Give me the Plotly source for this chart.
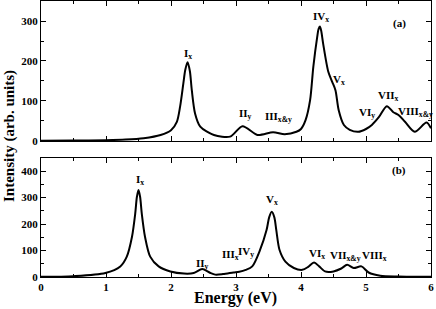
import plotly.graph_objects as go

# Panel (a) spectrum
energy_a = [0.0, 0.5, 1.0, 1.3, 1.58, 1.84, 2.0, 2.09, 2.14, 2.19, 2.22, 2.255, 2.29, 2.32, 2.37, 2.45,
            2.66, 2.91, 3.1, 3.33, 3.57, 3.75, 3.93, 4.0, 4.07, 4.14, 4.19, 4.25, 4.27, 4.29, 4.31, 4.34,
            4.42, 4.48, 4.53, 4.58, 4.66, 4.75, 4.88, 5.0, 5.09, 5.2, 5.32, 5.42, 5.5, 5.6, 5.75, 5.93, 6.0]
intensity_a = [0.5, 1, 2, 3.5, 7, 15, 27, 48, 86, 144, 178, 197, 175, 127, 69, 36,
               15, 11, 37, 15, 22, 17, 23, 30, 52, 102, 186, 261, 280, 286, 276, 244,
               173, 148, 127, 77, 40, 28, 23, 30, 40, 60, 87, 72, 65, 48, 23, 46, 32]

# Panel (b) spectrum
energy_b = [0.0, 0.5, 0.99, 1.22, 1.32, 1.40, 1.45, 1.475, 1.50, 1.525, 1.55, 1.60, 1.68, 1.81, 1.99,
            2.2, 2.35, 2.48, 2.6, 2.68, 2.8, 2.96, 3.05, 3.15, 3.25, 3.37, 3.47, 3.51, 3.55, 3.59,
            3.62, 3.67, 3.76, 3.89, 4.02, 4.11, 4.20, 4.28, 4.37, 4.50, 4.62, 4.71, 4.81, 4.93,
            5.04, 5.22, 5.5, 6.0]
intensity_b = [0.5, 3, 15, 40, 77, 152, 240, 302, 328, 302, 240, 152, 77, 40, 21,
               13, 15, 30, 16, 9, 11, 17, 20, 27, 40, 102, 177, 225, 246, 225,
               177, 102, 58, 34, 27, 38, 55, 40, 21, 21, 32, 46, 34, 40,
               17, 5, 2, 0.5]

# Peak labels
labels_a = ["I<sub>x</sub>", "II<sub>y</sub>", "III<sub>x&y</sub>", "IV<sub>x</sub>", "V<sub>x</sub>",
            "VI<sub>y</sub>", "VII<sub>x</sub>", "VIII<sub>x&y</sub>"]
label_pos_a = [(2.26, 217), (3.14, 67), (3.65, 60), (4.31, 310), (4.58, 152),
               (5.02, 70), (5.35, 112), (5.76, 72)]
labels_b = ["I<sub>x</sub>", "II<sub>y</sub>", "III<sub>x</sub>", "IV<sub>y</sub>", "V<sub>x</sub>",
            "VI<sub>x</sub>", "VII<sub>x&y</sub>", "VIII<sub>x</sub>"]
label_pos_b = [(1.52, 365), (2.48, 50), (2.91, 82), (3.15, 95), (3.56, 290),
               (4.25, 87), (4.68, 80), (5.13, 80)]

x_ticks = [0, 1, 2, 3, 4, 5, 6]

FONT = "Liberation Serif"
W, H = 436, 309
ML, MR, MT, MB = 41, 5, 1, 32

fig = go.Figure()
fig.add_trace(go.Scatter(x=energy_a, y=intensity_a, mode="lines", xaxis="x", yaxis="y",
                         line=dict(color="black", width=2, shape="spline", smoothing=0.8),
                         showlegend=False, hoverinfo="skip"))
fig.add_trace(go.Scatter(x=energy_b, y=intensity_b, mode="lines", xaxis="x2", yaxis="y2",
                         line=dict(color="black", width=2, shape="spline", smoothing=0.8),
                         showlegend=False, hoverinfo="skip"))

tickfont = dict(family=FONT, size=11, color="black", weight="bold")
common_x = dict(range=[0, 6], tickmode="array", tickvals=x_ticks, ticks="inside", ticklen=5,
                tickcolor="black", showline=True, linecolor="black", linewidth=1, mirror="allticks",
                showgrid=False, zeroline=False, tickfont=tickfont, automargin=False,
                minor=dict(dtick=0.5, ticks="inside", ticklen=3, tickcolor="black"))
common_y = dict(ticks="inside", ticklen=5, tickcolor="black", showline=True, linecolor="black",
                linewidth=1, mirror="allticks", showgrid=False, zeroline=False, tickfont=tickfont,
                dtick=100, automargin=False,
                minor=dict(dtick=50, ticks="inside", ticklen=3, tickcolor="black"))

plot_w = W - ML - MR
plot_h = H - MT - MB

annotations = []
lab_font = dict(family=FONT, size=11, color="black", weight="bold")
for t, (x, y) in zip(labels_a, label_pos_a):
    annotations.append(dict(text=t, x=x, y=y, xref="x", yref="y", showarrow=False, font=lab_font,
                            xanchor="center", yanchor="middle"))
for t, (x, y) in zip(labels_b, label_pos_b):
    annotations.append(dict(text=t, x=x, y=y, xref="x2", yref="y2", showarrow=False, font=lab_font,
                            xanchor="center", yanchor="middle"))
annotations.append(dict(text="(a)", x=5.52, y=294, xref="x", yref="y", showarrow=False, font=lab_font,
                        xanchor="center", yanchor="middle"))
annotations.append(dict(text="(b)", x=5.50, y=403, xref="x2", yref="y2", showarrow=False, font=lab_font,
                        xanchor="center", yanchor="middle"))
annotations.append(dict(text="Intensity (arb. units)", x=(9 - ML) / plot_w, y=(H - MB - 136) / plot_h,
                        xref="paper", yref="paper", showarrow=False, textangle=-90,
                        font=dict(family=FONT, size=15, color="black", weight="bold"),
                        xanchor="center", yanchor="middle"))
annotations.append(dict(text="Energy (eV)", x=(235 - ML) / plot_w, y=(H - MB - 298) / plot_h,
                        xref="paper", yref="paper", showarrow=False,
                        font=dict(family=FONT, size=16, color="black", weight="bold"),
                        xanchor="center", yanchor="middle"))

fig.update_layout(
    width=W, height=H, autosize=False,
    margin=dict(l=ML, r=MR, t=MT, b=MB, pad=0),
    paper_bgcolor="white", plot_bgcolor="white",
    xaxis=dict(domain=[0, 1], anchor="y", showticklabels=False, **common_x),
    yaxis=dict(domain=[0.4928, 1], anchor="x", range=[0, 350], **common_y),
    xaxis2=dict(domain=[0, 1], anchor="y2", showticklabels=True, **common_x),
    yaxis2=dict(domain=[0, 0.432], anchor="x2", range=[0, 450], **common_y),
    annotations=annotations,
    hovermode=False,
)

fig.write_html("out.html", config={"displayModeBar": False, "staticPlot": True},
               post_script="document.body.style.margin='0';")
